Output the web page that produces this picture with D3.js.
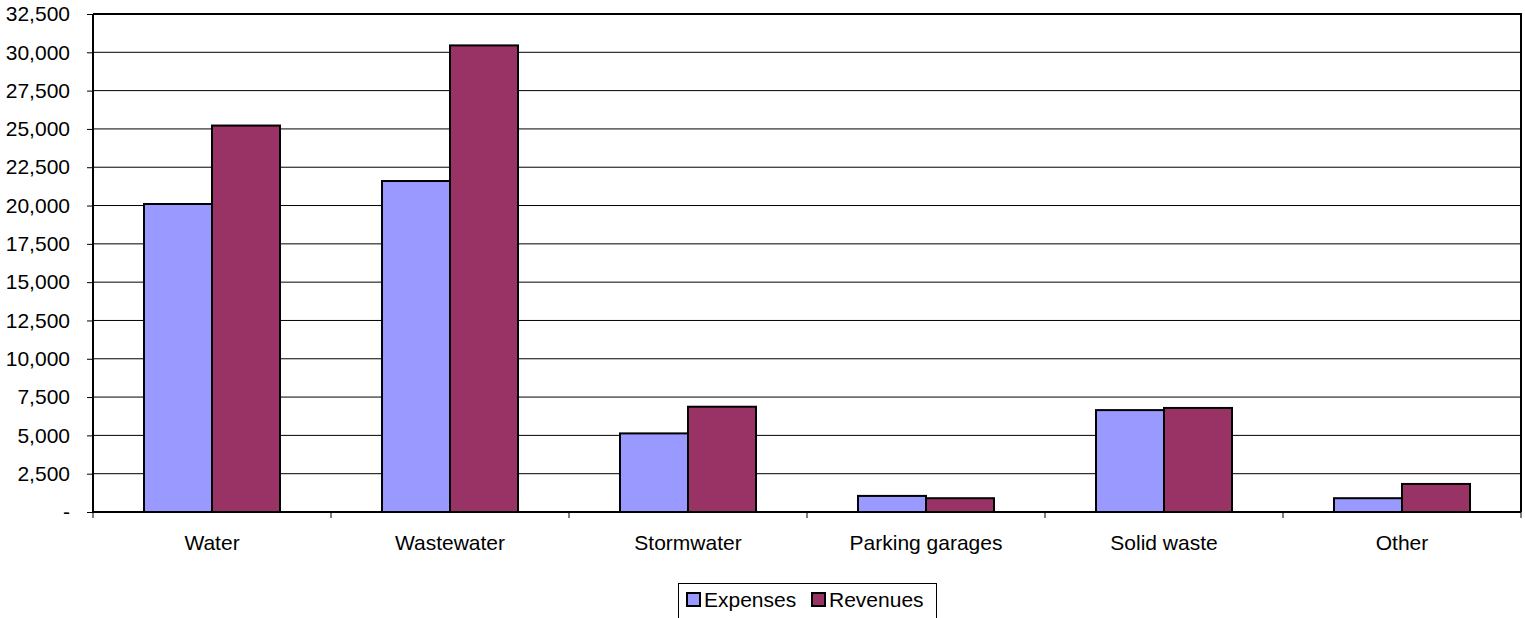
<!DOCTYPE html>
<html><head><meta charset="utf-8">
<script src="https://cdn.jsdelivr.net/npm/d3@7"></script>
<style>body{margin:0;background:#fff}svg{display:block}text{font-family:"Liberation Sans",Arial,sans-serif;fill:#000}</style>
</head><body><svg id="c" width="1525" height="618"></svg>
<script>
const categories = ["Water","Wastewater","Stormwater","Parking garages","Solid waste","Other"];
const seriesNames = ["Expenses","Revenues"];
const expenses = [20100, 21600, 5130, 1050, 6650, 900];
const revenues = [25220, 30450, 6870, 900, 6790, 1830];
const yTicks = [0,2500,5000,7500,10000,12500,15000,17500,20000,22500,25000,27500,30000,32500];
const colors = ["#9999FF","#993366"];

const svg = d3.select("#c");
const L=93, R=1521, T=14, B=512;
const x = d3.scaleBand().domain(categories).range([L,R]);
const xs = d3.scaleBand().domain(seriesNames).range([0,x.bandwidth()]).paddingOuter(0.75).paddingInner(0);
const y = d3.scaleLinear().domain([0,32500]).range([B,T]);
const fmt = d => d===0 ? "-" : d3.format(",")(d);

// gridlines
svg.append("g").selectAll("line").data(yTicks.filter(d=>d>0)).join("line")
  .attr("x1",L).attr("x2",R).attr("y1",d=>y(d)).attr("y2",d=>y(d))
  .attr("stroke","#000").attr("stroke-width",1);

// bars
const data = [expenses, revenues];
seriesNames.forEach((s,si)=>{
  svg.append("g").selectAll("rect").data(categories).join("rect")
    .attr("x",c=>x(c)+xs(s)).attr("width",xs.bandwidth())
    .attr("y",(c,i)=>y(data[si][i])).attr("height",(c,i)=>B-y(data[si][i]))
    .attr("fill",colors[si]).attr("stroke","#000").attr("stroke-width",2);
});

// frame top/right
svg.append("path").attr("d",`M${L},${T}H${R}V${B}`).attr("fill","none").attr("stroke","#000").attr("stroke-width",2);

// y axis
const ya = svg.append("g").attr("transform",`translate(${L},0)`)
  .call(d3.axisLeft(y).tickValues(yTicks).tickFormat(fmt).tickSize(6).tickPadding(17));
ya.select(".domain").attr("stroke","#000").attr("stroke-width",2).attr("d",`M0,${T}V${B}`);
ya.selectAll(".tick line").attr("stroke","#000");
ya.selectAll("text").style("font-size","21px").attr("font-family",null);

// x axis
const xa = svg.append("g").attr("transform",`translate(0,${B})`)
  .call(d3.axisBottom(x).tickSize(0).tickPadding(23));
xa.select(".domain").attr("stroke","#000").attr("stroke-width",2).attr("d",`M${L},0H${R}`);
xa.selectAll("text").style("font-size","21px").attr("font-family",null);
// category boundary ticks
svg.append("g").selectAll("line").data(d3.range(categories.length+1)).join("line")
  .attr("x1",i=>L+i*x.step()).attr("x2",i=>L+i*x.step())
  .attr("y1",B).attr("y2",B+6).attr("stroke","#000");

// legend
const lg = svg.append("g");
lg.append("rect").attr("x",678.5).attr("y",583.5).attr("width",258).attr("height",36)
  .attr("fill","#fff").attr("stroke","#000").attr("stroke-width",1);
const lx = [687, 812];
seriesNames.forEach((s,i)=>{
  lg.append("rect").attr("x",lx[i]).attr("y",593).attr("width",13).attr("height",13)
    .attr("fill",colors[i]).attr("stroke","#000").attr("stroke-width",2);
  lg.append("text").attr("x",lx[i]+17).attr("y",607).style("font-size","21px").text(s);
});
</script></body></html>
